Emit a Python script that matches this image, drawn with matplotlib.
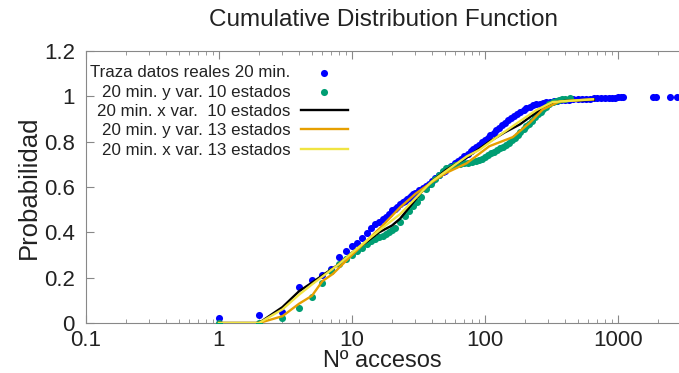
import matplotlib
matplotlib.use("Agg")
import matplotlib.pyplot as plt
from matplotlib.ticker import FixedLocator, LogLocator, NullFormatter, FuncFormatter

plt.rcParams['font.family'] = ['Liberation Sans', 'DejaVu Sans']

# real trace, 20 min (blue dots)
real_x = [1, 2, 3, 4, 5, 6, 7, 8, 9, 10, 11, 12, 13, 14, 15, 16, 17, 18, 19, 20,
          21, 22, 23, 24, 25, 26, 27, 28, 29, 30, 32, 34, 36, 38, 40, 42, 45, 48,
          50, 53, 56, 60, 63, 66, 70, 74, 78, 82, 86, 90, 95, 100, 105, 110, 116,
          122, 128, 135, 142, 150, 158, 166, 175, 185, 195, 205, 217, 230, 243,
          258, 273, 290, 310, 330, 350, 375, 400, 430, 460, 500, 540, 580, 620,
          660, 700, 750, 800, 850, 900, 950, 1000, 1050, 1100, 1850, 1950, 2450, 2800]
real_p = [0.02, 0.037, 0.05, 0.157, 0.19, 0.213, 0.24, 0.29, 0.316, 0.338, 0.355,
          0.377, 0.396, 0.418, 0.435, 0.447, 0.458, 0.468, 0.48, 0.497,
          0.505, 0.513, 0.525, 0.532, 0.54, 0.547, 0.553, 0.56, 0.567, 0.573,
          0.585, 0.596, 0.605, 0.615, 0.628, 0.638, 0.652, 0.664, 0.672, 0.683,
          0.694, 0.707, 0.716, 0.725, 0.737, 0.747, 0.757, 0.767, 0.776, 0.785,
          0.797, 0.808, 0.818, 0.828, 0.84, 0.851, 0.862, 0.874, 0.884, 0.895,
          0.905, 0.914, 0.923, 0.932, 0.94, 0.947, 0.954, 0.96, 0.964, 0.968,
          0.971, 0.974, 0.977, 0.979, 0.981, 0.983, 0.984, 0.986, 0.987, 0.988,
          0.989, 0.99, 0.99, 0.991, 0.991, 0.992, 0.993, 0.993, 0.994, 0.994,
          0.995, 0.995, 0.996, 0.997, 0.997, 0.998, 0.998]

# 20 min. y var. 10 estados (green dots)
y10_x = [1, 2, 3, 4, 5, 6, 7, 8, 9, 10, 11, 12, 13, 14, 15, 16, 17, 18, 19, 20,
         21, 23, 25, 27, 29, 31, 33, 36, 39, 42, 45, 48, 51, 55, 60, 65, 70, 75,
         80, 85, 90, 95, 100, 106, 112, 118, 124, 130, 137, 144, 152, 160, 168,
         176, 185, 195, 205, 215, 226, 238, 250, 262, 275, 290, 305, 323, 340,
         360, 380, 400, 433]
y10_p = [0.0, 0.0, 0.022, 0.067, 0.115, 0.178, 0.23, 0.262, 0.283, 0.30, 0.318,
         0.333, 0.35, 0.36, 0.37, 0.378, 0.386, 0.393, 0.40, 0.41,
         0.42, 0.445, 0.47, 0.495, 0.515, 0.535, 0.555, 0.59, 0.615, 0.635,
         0.655, 0.67, 0.683, 0.69, 0.697, 0.701, 0.704, 0.707, 0.71, 0.714,
         0.719, 0.725, 0.732, 0.74, 0.748, 0.755, 0.762, 0.77, 0.778, 0.786,
         0.796, 0.806, 0.818, 0.83, 0.843, 0.857, 0.869, 0.88, 0.893, 0.907,
         0.92, 0.932, 0.944, 0.955, 0.965, 0.975, 0.981, 0.986, 0.989, 0.99, 0.991]

# 20 min. x var. 10 estados (black line)
x10_x = [1, 2, 3, 4, 5, 6, 8, 10, 13, 16, 20, 23, 27, 33, 40, 51, 73, 108, 140,
         183, 245, 323, 400, 520, 660]
x10_p = [0.0, 0.0, 0.07, 0.14, 0.178, 0.21, 0.26, 0.31, 0.36, 0.40, 0.43, 0.46,
         0.51, 0.575, 0.625, 0.675, 0.73, 0.80, 0.84, 0.876, 0.93, 0.973, 0.98,
         0.982, 0.985]

# 20 min. y var. 13 estados (orange line)
y13_x = [1, 2, 3, 4, 5, 6, 7.2, 10, 13, 17, 23, 30, 40, 51, 73, 108, 162, 218,
         272, 366, 650]
y13_p = [0.0, 0.0, 0.03, 0.085, 0.12, 0.185, 0.217, 0.30, 0.364, 0.43, 0.51,
         0.57, 0.622, 0.662, 0.705, 0.78, 0.82, 0.884, 0.942, 0.978, 0.987]

# 20 min. x var. 13 estados (yellow line)
x13_x = [1, 2, 3, 4, 5, 6, 8, 10, 13, 17, 23, 30, 40, 51, 73, 91, 123, 183,
         245, 323, 650]
x13_p = [0.0, 0.0, 0.06, 0.125, 0.17, 0.205, 0.26, 0.31, 0.365, 0.42, 0.48,
         0.55, 0.625, 0.67, 0.735, 0.764, 0.82, 0.89, 0.94, 0.975, 0.987]

labels = ["Traza datos reales 20 min.", "20 min. y var. 10 estados",
          "20 min. x var.  10 estados", "20 min. y var. 13 estados",
          "20 min. x var. 13 estados"]

fig = plt.figure(figsize=(6.79, 3.73), dpi=100)
ax = fig.add_axes([86 / 679, 50 / 373, 593 / 679, 272 / 373])

ax.scatter(real_x, real_p, s=26, color='#0000ff', linewidths=0, label=labels[0], zorder=2)
ax.scatter(y10_x, y10_p, s=26, color='#009e73', linewidths=0, label=labels[1], zorder=3)
ax.plot(x10_x, x10_p, color='black', lw=1.7, label=labels[2], zorder=4)
ax.plot(y13_x, y13_p, color='#e69f00', lw=1.7, label=labels[3], zorder=5)
ax.plot(x13_x, x13_p, color='#f0e442', lw=1.7, label=labels[4], zorder=6)

ax.set_xscale('log')
ax.set_xlim(0.1, 2880)
ax.set_ylim(0, 1.2)
ax.xaxis.set_major_locator(FixedLocator([0.1, 1, 10, 100, 1000]))
ax.xaxis.set_major_formatter(FuncFormatter(lambda v, p: '%g' % v))
ax.xaxis.set_minor_locator(LogLocator(base=10, subs=range(2, 10)))
ax.xaxis.set_minor_formatter(NullFormatter())
ax.yaxis.set_major_locator(FixedLocator([0, 0.2, 0.4, 0.6, 0.8, 1.0, 1.2]))
ax.yaxis.set_major_formatter(FuncFormatter(lambda v, p: '%g' % round(v, 1)))

for s in ax.spines.values():
    s.set_color('#888888')
ax.spines['right'].set_visible(False)
ax.tick_params(which='both', direction='in', colors='#888888', top=True,
               labelcolor='#222222', labelsize=16)
ax.tick_params(which='major', length=6)
ax.tick_params(which='minor', length=3)
ax.tick_params(axis='x', pad=5)
ax.tick_params(axis='y', pad=8)

ax.set_xlabel('Nº accesos', fontsize=17, color='#222222', labelpad=-1)
ax.set_ylabel('Probabilidad', fontsize=18.5, color='#222222', labelpad=2)
fig.text(0.565, 0.947, 'Cumulative Distribution Function', fontsize=17.5,
         ha='center', va='center', color='#222222')

leg = ax.legend(loc='upper right', bbox_to_anchor=(0.442, 0.948), frameon=False,
                markerfirst=False, fontsize=12.2, handlelength=2.8,
                labelspacing=0.26, handletextpad=0.6, borderaxespad=0,
                borderpad=0, scatterpoints=1)
for t in leg.get_texts():
    t.set_color('#222222')

fig.savefig('out.png', dpi=100)
